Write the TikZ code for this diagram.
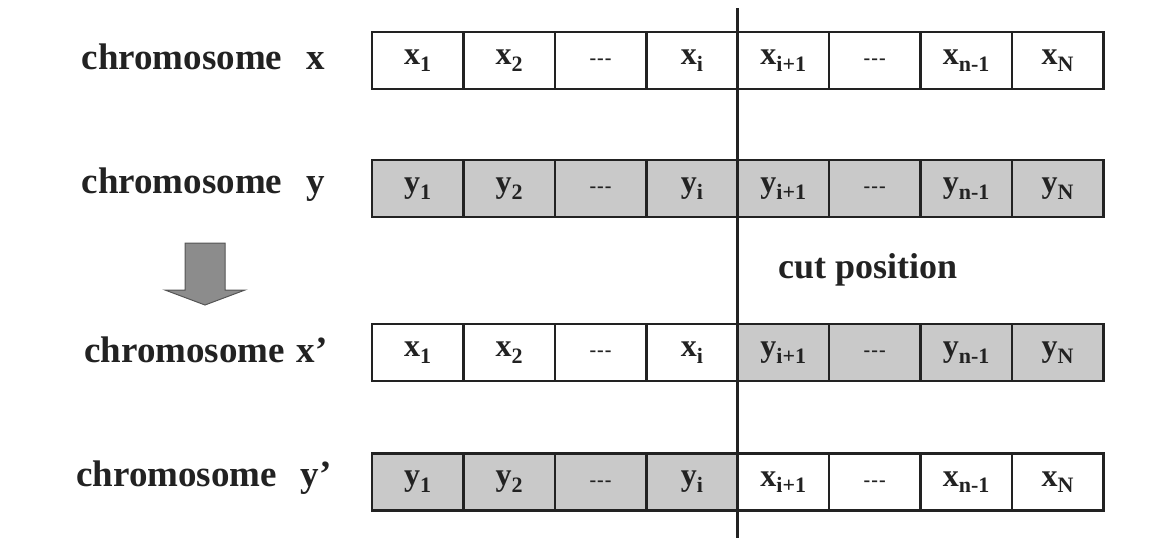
\documentclass[tikz,border=0pt]{standalone}
\usepackage{fontspec}
\setmainfont{Liberation Serif}
\newcommand\sbs[1]{\raisebox{-.45ex}{\fontsize{22}{22}\selectfont #1}}
\newcommand\ddd{\raisebox{-.6ex}{\fontsize{20}{20}\selectfont -\kern1pt-\kern1pt-}}
\definecolor{ink}{HTML}{222222}
\definecolor{cellgray}{HTML}{C9C9C9}
\definecolor{arrowgray}{HTML}{8C8C8C}
\tikzset{
  cellw/.style={draw=ink, line width=2.6pt, minimum width=91.4pt, minimum height=57pt, inner sep=0pt, fill=white, text=ink, font=\bfseries\fontsize{32}{36}\selectfont},
  cellg/.style={cellw, fill=cellgray},
  rowlabel/.style={anchor=east, text=ink, font=\bfseries\fontsize{37}{40}\selectfont, inner sep=0pt},
  cutline/.style={draw=ink, line width=3pt},
  blockarrow/.style={draw=arrowgray!60!black, line width=1pt, fill=arrowgray},
}
\begin{document}
\begin{tikzpicture}[x=1pt,y=-1pt]
\useasboundingbox (0,0) rectangle (1164,538);
% row labels
\node[rowlabel] (lx) at (325,57) {chromosome\hspace{24pt}x};
\node[rowlabel] (ly) at (325,185) {chromosome\hspace{24pt}y};
\node[rowlabel] (lxp) at (328,350) {chromosome\hspace{12pt}x'};
\node[rowlabel] (lyp) at (332,478) {chromosome\hspace{24pt}y'};
% row x
\foreach \k/\t in {0/x\sbs{1},1/x\sbs{2},2/\ddd,3/x\sbs{i},4/x\sbs{i+1},5/\ddd,6/x\sbs{n-1},7/x\sbs{N}}
  \node[cellw] (x\k) at ({372+91.4*(\k+0.5)},60.5) {\t};
% row y
\foreach \k/\t in {0/y\sbs{1},1/y\sbs{2},2/\ddd,3/y\sbs{i},4/y\sbs{i+1},5/\ddd,6/y\sbs{n-1},7/y\sbs{N}}
  \node[cellg] (y\k) at ({372+91.4*(\k+0.5)},188.5) {\t};
% row x'
\foreach \k/\t in {0/x\sbs{1},1/x\sbs{2},2/\ddd,3/x\sbs{i}}
  \node[cellw] (xp\k) at ({372+91.4*(\k+0.5)},352.5) {\t};
\foreach \k/\t in {4/y\sbs{i+1},5/\ddd,6/y\sbs{n-1},7/y\sbs{N}}
  \node[cellg] (xp\k) at ({372+91.4*(\k+0.5)},352.5) {\t};
% row y'
\foreach \k/\t in {0/y\sbs{1},1/y\sbs{2},2/\ddd,3/y\sbs{i}}
  \node[cellg] (yp\k) at ({372+91.4*(\k+0.5)},482) {\t};
\foreach \k/\t in {4/x\sbs{i+1},5/\ddd,6/x\sbs{n-1},7/x\sbs{N}}
  \node[cellw] (yp\k) at ({372+91.4*(\k+0.5)},482) {\t};
% cut line
\coordinate (cuttop) at (737,8);
\coordinate (cutbot) at (737,538);
\draw[cutline] (cuttop) -- (cutbot);
\node[text=ink, font=\bfseries\fontsize{36}{40}\selectfont, anchor=west, inner sep=0pt] (cut) at (778,270) {cut position};
% block arrow
\draw[blockarrow] (185,243) -- (225,243) -- (225,290) -- (245,290) -- (205,305) -- (165,290) -- (185,290) -- cycle;
\end{tikzpicture}
\end{document}
